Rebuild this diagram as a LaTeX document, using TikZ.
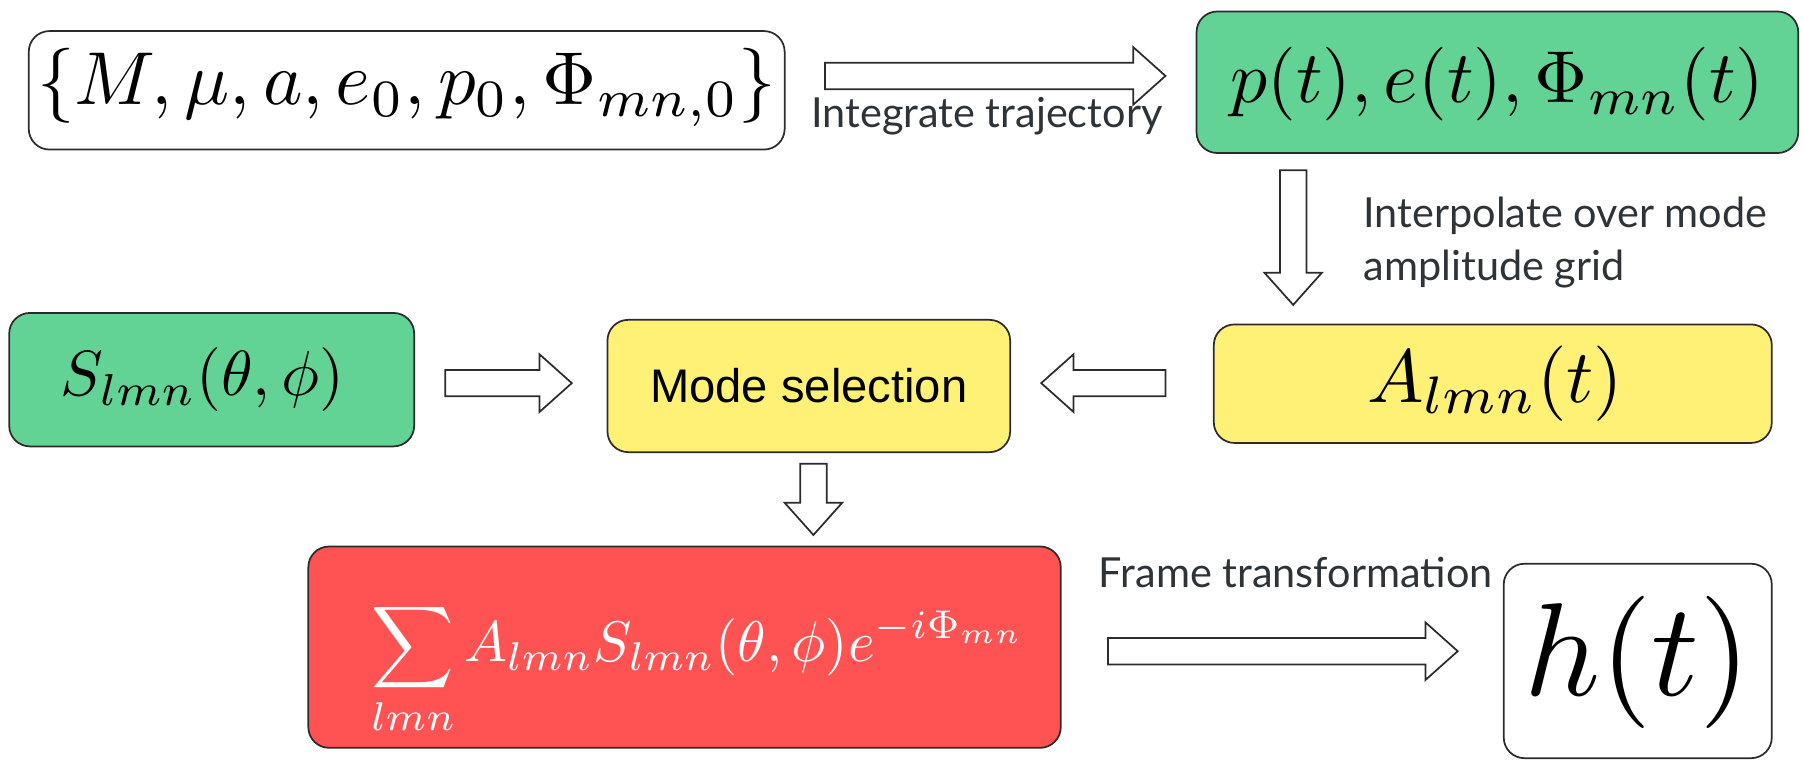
\documentclass[tikz,border=0pt]{standalone}
\usepackage{fontspec}
\newfontfamily\labelfont{Lato}
\newfontfamily\arialfont{Liberation Sans}
\usetikzlibrary{calc}

\definecolor{edge}{HTML}{2B2B2B}
\definecolor{mint}{HTML}{62D295}
\definecolor{lemon}{HTML}{FFF176}
\definecolor{coral}{HTML}{FF5252}
\definecolor{labelgray}{HTML}{2E3338}

\tikzset{
  box/.style={draw=edge, line width=1.5pt, rounded corners=18pt, inner sep=0pt, align=center},
  flowlabel/.style={text=labelgray, font=\labelfont\fontsize{36}{46}\selectfont, inner sep=0pt},
  blockbody/.style={draw=edge, line width=1.5pt, fill=white, line join=miter},
}

% formula set at 10pt and enlarged (#1), then nudged right (#2) and down (#3)
\newcommand\bigformula[4]{%
  \raisebox{-#3}[\height][\depth]{\hspace*{#2}\scalebox{#1}{$#4$}\hspace*{-#2}}}

% hollow block arrow from #1 (tail) to #2 (tip)
\newcommand\shaftw{11.5pt}
\newcommand\headw{25pt}
\newcommand\headlen{28pt}
\newcommand\blockarrow[2]{%
  \draw[blockbody]
    ($(#1)!\shaftw!90:(#2)$)
    -- ($(#2)!\headlen!(#1)!\shaftw!90:(#2)$)
    -- ($(#2)!\headlen!(#1)!\headw!90:(#2)$)
    -- (#2)
    -- ($(#2)!\headlen!(#1)!\headw!-90:(#2)$)
    -- ($(#2)!\headlen!(#1)!\shaftw!-90:(#2)$)
    -- ($(#1)!\shaftw!-90:(#2)$)
    -- cycle;}

\begin{document}
\begin{tikzpicture}[x=1pt,y=-1pt]
\useasboundingbox (0,0) rectangle (1568,660);

% boxes
\node[box, fill=white, minimum width=657pt, minimum height=103pt] (params) at (353.5,78.5)
      {\bigformula{6.52}{0pt}{-2.5pt}{\{M,\mu,a,e_0,p_0,\Phi_{mn,0}\}}};
\node[box, fill=mint, minimum width=523pt, minimum height=123pt] (traj) at (1301.5,71.5)
      {\bigformula{6.4}{0pt}{2pt}{p(t),e(t),\Phi_{mn}(t)}};
\node[box, fill=mint, minimum width=352pt, minimum height=116pt] (harm) at (184,330)
      {\bigformula{5.55}{-8pt}{0pt}{S_{lmn}(\theta,\phi)}};
\node[box, fill=lemon, minimum width=350pt, minimum height=115pt,
      font=\arialfont\fontsize{41}{48}\selectfont] (mode) at (703,335.5)
      {Mode selection};
\node[box, fill=lemon, minimum width=485pt, minimum height=103pt] (amp) at (1297.5,333.5)
      {\bigformula{6.55}{2pt}{0pt}{A_{lmn}(t)}};
\node[box, fill=coral, text=white, minimum width=654pt, minimum height=175pt] (wsum) at (595,562.5)
      {\bigformula{4.98}{12pt}{19pt}{\displaystyle\sum_{lmn}A_{lmn}S_{lmn}(\theta,\phi)e^{-i\Phi_{mn}}}};
\node[box, fill=white, minimum width=233pt, minimum height=169pt] (strain) at (1423.5,574.5)
      {\bigformula{11.5}{0pt}{1.5pt}{h(t)}};

% arrow end points
\coordinate (a1s) at (717,66);   \coordinate (a1e) at (1013,66);
\coordinate (a2s) at (1124,148); \coordinate (a2e) at (1124,265);
\coordinate (a3s) at (387,333);  \coordinate (a3e) at (497,333);
\coordinate (a4s) at (1013,333); \coordinate (a4e) at (905,333);
\coordinate (a5s) at (707,403);  \coordinate (a5e) at (707,465);
\coordinate (a6s) at (963,566);  \coordinate (a6e) at (1267,566);

\blockarrow{a1s}{a1e}
\blockarrow{a2s}{a2e}
\blockarrow{a3s}{a3e}
\blockarrow{a4s}{a4e}
\blockarrow{a5s}{a5e}
\blockarrow{a6s}{a6e}

% step labels
\node[flowlabel, anchor=base west] (lbltraj) at (705,111) {Integrate trajectory};
\node[flowlabel, anchor=north west, align=left] (lblinterp) at (1185,171)
      {Interpolate over mode\\amplitude grid};
\node[flowlabel, anchor=base west] (lblframe) at (955,511) {Frame transformation};
\end{tikzpicture}
\end{document}
